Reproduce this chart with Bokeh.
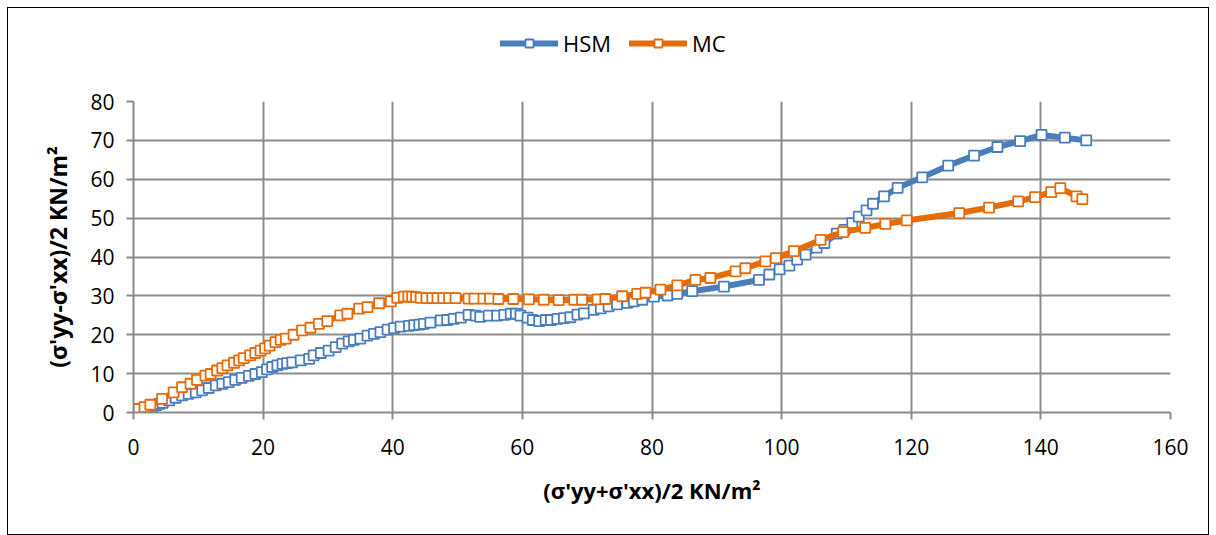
from bokeh.plotting import figure
from bokeh.layouts import column
from bokeh.models import Legend, LegendItem, FixedTicker, Range1d
from bokeh.embed import file_html
from bokeh.resources import INLINE

hsm_x = [0, 0.5, 1.0, 1.5, 2.0, 2.5, 3.0, 3.5, 4.0, 4.5, 5.5, 6.5, 7.5, 8.5, 9.6, 10.6, 11.6, 12.7,
         13.7, 14.7, 15.7, 16.7, 17.8, 18.8, 19.8, 20.6, 21.4, 22.2, 23.0, 23.7, 24.5, 25.8, 27.1,
         27.8, 28.9, 30.1, 31.2, 32.2, 33.2, 34.0, 35.0, 36.1, 37.1, 38.1, 39.2, 40.2, 41.2, 42.5,
         43.3, 44.1, 44.8, 45.8, 47.4, 48.4, 49.4, 50.5, 51.7, 52.8, 53.5, 54.8, 56.1, 57.2, 58.2,
         59.0, 59.7, 60.8, 61.6, 62.6, 63.6, 64.4, 65.4, 66.4, 67.4, 68.5, 69.5, 71.0, 72.1, 73.3,
         74.6, 76.2, 77.2, 78.5, 80.3, 82.4, 83.9, 86.2, 91.1, 96.5, 98.1, 99.7, 101.2, 102.4, 103.7,
         105.4, 106.6, 108.5, 109.7, 110.9, 111.9, 113.1, 114.1, 115.8, 117.9, 121.7, 125.7, 129.7,
         133.3, 136.8, 140.1, 143.7, 147.0]
hsm_y = [0, 0.2, 0.5, 0.8, 1.0, 1.3, 1.6, 1.9, 2.2, 2.5, 3.1, 3.8, 4.4, 4.8, 5.2, 5.7, 6.3, 7.0,
         7.4, 7.8, 8.4, 8.9, 9.4, 9.9, 10.4, 11.1, 11.7, 12.1, 12.5, 12.7, 12.9, 13.4, 13.8,
         14.7, 15.3, 15.9, 16.8, 17.7, 18.3, 18.7, 19.0, 19.8, 20.2, 20.7, 21.3, 21.7, 22.1, 22.3,
         22.5, 22.6, 22.8, 23.1, 23.7, 23.8, 24.1, 24.4, 25.1, 24.9, 24.6, 24.9, 24.9, 25.1, 25.4,
         25.4, 24.9, 24.4, 23.8, 23.5, 23.8, 23.8, 24.1, 24.3, 24.5, 25.2, 25.5, 26.4, 26.8, 27.3,
         27.8, 28.2, 28.6, 29.0, 29.8, 30.1, 30.5, 31.2, 32.4, 34.1, 35.5, 36.8, 37.8, 39.3, 40.6,
         42.4, 43.6, 46.0, 47.0, 48.7, 50.4, 52.0, 53.7, 55.6, 57.8, 60.5, 63.5, 66.1,
         68.3, 69.8, 71.4, 70.7, 70.0]

mc_x = [0, 0.8, 1.7, 2.6, 4.4, 6.2, 7.5, 8.8, 9.8, 11.1, 11.9, 12.9, 13.7, 14.5, 15.5, 16.3, 17.0,
        18.0, 18.8, 19.6, 20.3, 21.0, 21.9, 22.7, 23.5, 24.7, 26.0, 27.3, 28.6, 29.9, 31.9, 33.0,
        34.8, 36.1, 37.9, 39.7, 40.7, 41.7, 42.4, 43.0, 43.6, 44.3, 45.2, 46.1, 46.9, 47.8, 48.7,
        49.7, 51.7, 52.6, 54.0, 55.0, 56.3, 58.6, 61.0, 63.3, 65.6, 68.0, 69.2, 71.6, 72.8, 75.4,
        77.7, 79.0, 81.3, 83.9, 86.7, 89.0, 92.9, 94.4, 97.5, 99.1, 101.9, 106.0, 109.5, 112.9,
        116.0, 119.3, 127.4, 132.0, 136.5, 139.1, 141.6, 143.0, 145.5, 146.4]
mc_y = [0.5, 0.9, 1.4, 2.0, 3.5, 5.2, 6.5, 7.4, 8.4, 9.5, 9.9, 10.8, 11.4, 12.1, 12.8, 13.4, 14.0,
        14.7, 15.3, 15.9, 16.5, 17.2, 18.1, 18.7, 19.0, 20.0, 21.1, 21.8, 22.8, 23.5, 25.0, 25.4,
        26.7, 27.1, 28.1, 28.6, 29.5, 29.8, 29.8, 29.8, 29.7, 29.5, 29.4, 29.4, 29.4, 29.4, 29.4,
        29.4, 29.3, 29.3, 29.3, 29.3, 29.2, 29.2, 29.1, 29.0, 28.9, 29.0, 29.0, 29.1, 29.2, 29.9,
        30.5, 30.8, 31.6, 32.7, 34.1, 34.6, 36.3, 37.1, 38.9, 39.7, 41.5, 44.4, 46.4, 47.5,
        48.5, 49.4, 51.3, 52.7, 54.3, 55.4, 56.7, 57.7, 55.6, 54.9]

x_ticks = [0, 20, 40, 60, 80, 100, 120, 140, 160]
y_ticks = [0, 10, 20, 30, 40, 50, 60, 70, 80]

x_label = "(σ'yy+σ'xx)/2 KN/m²"
y_label = "(σ'yy-σ'xx)/2 KN/m²"
series_names = ["HSM", "MC"]

BLUE = "#4A7EBB"
ORANGE = "#E46C0A"
FONT = "Open Sans"
LEG_H = 80

# main plot
p = figure(width=1200, height=526 - LEG_H, output_backend="svg", toolbar_location=None,
           x_range=Range1d(0, 160), y_range=Range1d(0, 80),
           min_border_left=125, min_border_right=38, min_border_top=93 - LEG_H, min_border_bottom=122)
p.outline_line_color = None

for ax, ticks in ((p.xaxis[0], x_ticks), (p.yaxis[0], y_ticks)):
    ax.ticker = FixedTicker(ticks=ticks)
    ax.axis_line_color = "#8c8c8c"
    ax.axis_line_width = 2
    ax.major_tick_line_color = "#8c8c8c"
    ax.major_tick_line_width = 2
    ax.major_tick_out = 7
    ax.major_tick_in = 0
    ax.minor_tick_line_color = None
    ax.major_label_text_font = FONT
    ax.major_label_text_font_size = "21px"
    ax.major_label_text_color = "#000000"
    ax.axis_label_text_font = FONT
    ax.axis_label_text_font_style = "bold"
    ax.axis_label_text_color = "#000000"

p.xaxis.axis_label = x_label
p.yaxis.axis_label = y_label
p.xaxis.axis_label_text_font_size = "22px"
p.yaxis.axis_label_text_font_size = "23px"
p.xaxis.major_label_standoff = 19
p.xaxis.axis_label_standoff = 17
p.yaxis.major_label_standoff = 12
p.yaxis.axis_label_standoff = 13

for g, ticks in ((p.xgrid[0], x_ticks), (p.ygrid[0], y_ticks)):
    g.ticker = FixedTicker(ticks=ticks)
    g.grid_line_color = "#8c8c8c"
    g.grid_line_width = 2

# legend strip (same series, drawn outside its visible range so only the legend shows)
lf = figure(width=1200, height=LEG_H, output_backend="svg", toolbar_location=None,
            x_range=Range1d(0, 160), y_range=Range1d(-1000, -999),
            min_border=0, min_border_left=0, min_border_right=0, min_border_top=0, min_border_bottom=0)
lf.axis.visible = False
lf.grid.visible = False
lf.outline_line_color = None

items = []
for name, xs, ys, col in ((series_names[0], hsm_x, hsm_y, BLUE), (series_names[1], mc_x, mc_y, ORANGE)):
    kw_l = dict(line_color=col, line_width=6, line_join="round", line_cap="round")
    kw_s = dict(marker="square", size=10, fill_color="white", line_color=col, line_width=1.8)
    p.line(xs, ys, **kw_l)
    p.scatter(xs, ys, **kw_s)
    ll = lf.line(xs, ys, **kw_l)
    ls = lf.scatter(xs, ys, **kw_s)
    items.append(LegendItem(label=name, renderers=[ll, ls]))

legend = Legend(items=items, orientation="horizontal", location=(367, 30),
                label_text_font=FONT, label_text_font_size="22px", label_text_color="#000000",
                glyph_width=58, glyph_height=20, label_standoff=5, spacing=18,
                background_fill_alpha=0, border_line_color=None, padding=2, margin=0)
lf.add_layout(legend, "center")

layout = column(lf, p, spacing=0)
layout.margin = (7, 0, 0, 7)
layout.styles = {"border": "1px solid #000000"}

open("out.html", "w").write(file_html(layout, INLINE))
